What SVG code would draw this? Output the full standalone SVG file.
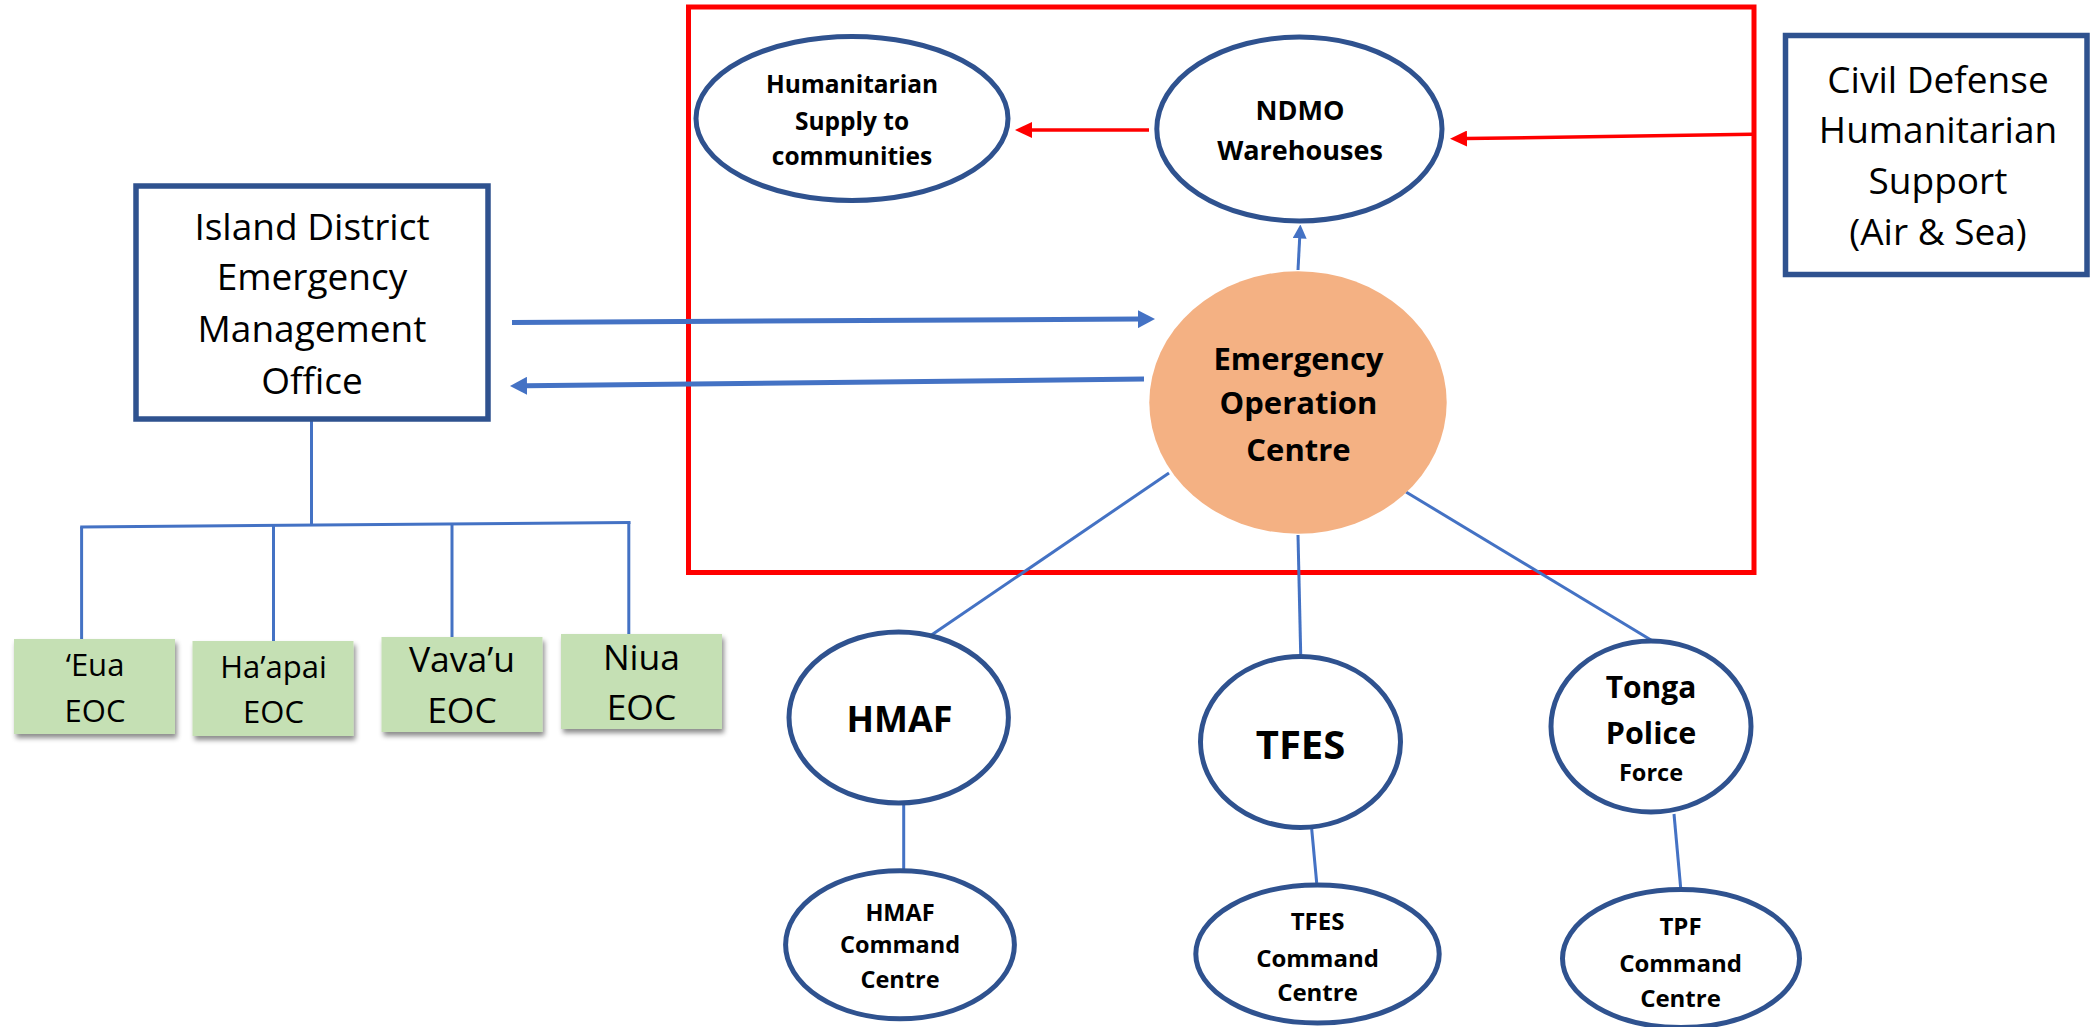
<svg xmlns="http://www.w3.org/2000/svg" width="2090" height="1027" viewBox="0 0 2090 1027">
<style>
  text { font-family: "Open Sans", "Noto Sans", "Liberation Sans", sans-serif; fill: #000; text-anchor: middle; }
  .b { font-weight: 700; }
  .node { fill: #FFFFFF; stroke: #2F528F; stroke-width: 5; }
  .box { fill: #FFFFFF; stroke: #2F528F; stroke-width: 5.5; }
  .green { fill: #C5E0B4; filter: url(#shadow); }
  .conn { fill: none; stroke: #4472C4; stroke-width: 3; }
  .thick { fill: none; stroke: #4472C4; stroke-width: 5; }
  .red { fill: none; stroke: #FF0000; stroke-width: 3.5; }
  .frame { fill: none; stroke: #FF0000; stroke-width: 5; }
</style>
<defs>
  <filter id="shadow" x="-10%" y="-10%" width="130%" height="140%">
    <feDropShadow dx="2" dy="4" stdDeviation="2.5" flood-color="#000000" flood-opacity="0.45"/>
  </filter>
  <marker id="ah-red" markerUnits="userSpaceOnUse" viewBox="0 0 17 16" markerWidth="17" markerHeight="16" refX="1" refY="8" orient="auto">
    <path d="M0,0 L17,8 L0,16 z" fill="#FF0000"/>
  </marker>
  <marker id="ah-blue-thick" markerUnits="userSpaceOnUse" viewBox="0 0 17 18" markerWidth="17" markerHeight="18" refX="1" refY="9" orient="auto">
    <path d="M0,0 L17,9 L0,18 z" fill="#4472C4"/>
  </marker>
  <marker id="ah-blue" markerUnits="userSpaceOnUse" viewBox="0 0 14 14" markerWidth="14" markerHeight="14" refX="1" refY="7" orient="auto">
    <path d="M0,0 L14,7 L0,14 z" fill="#4472C4"/>
  </marker>
</defs>
<rect width="2090" height="1027" fill="#FFFFFF"/>

<g id="eoc-boundary">
  <rect class="frame" x="688.5" y="7" width="1065.5" height="565.5"/>
</g>

<g id="connectors">
  <line class="red" x1="1149" y1="130" x2="1031" y2="130" marker-end="url(#ah-red)"/>
  <line class="red" x1="1752" y1="134.2" x2="1466" y2="138.6" marker-end="url(#ah-red)"/>
  <line class="conn" x1="1298" y1="270" x2="1299.7" y2="237.5" marker-end="url(#ah-blue)"/>
  <line class="thick" x1="512" y1="322.4" x2="1139" y2="319.1" marker-end="url(#ah-blue-thick)"/>
  <line class="thick" x1="1144" y1="379" x2="526" y2="385.8" marker-end="url(#ah-blue-thick)"/>
  <line class="conn" x1="1169" y1="473" x2="930" y2="636"/>
  <line class="conn" x1="1298" y1="535" x2="1300.7" y2="654"/>
  <line class="conn" x1="1406" y1="492" x2="1651" y2="640"/>
  <line class="conn" x1="903.7" y1="805" x2="903.7" y2="869"/>
  <line class="conn" x1="1311.7" y1="829" x2="1316.7" y2="883"/>
  <line class="conn" x1="1674" y1="814" x2="1680.7" y2="888"/>
  <line class="conn" x1="311.5" y1="421" x2="311.5" y2="525"/>
  <line class="conn" x1="80.2" y1="527" x2="630.5" y2="522.5"/>
  <line class="conn" x1="81.6" y1="527" x2="81.6" y2="639.5"/>
  <line class="conn" x1="273.5" y1="525.4" x2="273.5" y2="641"/>
  <line class="conn" x1="452" y1="524" x2="452" y2="637.5"/>
  <line class="conn" x1="628.8" y1="522.5" x2="628.8" y2="634.5"/>
</g>

<g id="n-island">
  <rect class="box" x="136" y="186" width="352" height="233"/>
  <text x="312" y="240" font-size="37">Island District</text>
  <text x="312" y="290" font-size="37">Emergency</text>
  <text x="312" y="341.5" font-size="37">Management</text>
  <text x="312" y="394" font-size="37">Office</text>
</g>

<g id="n-civil">
  <rect class="box" x="1785.5" y="35.5" width="301.5" height="239"/>
  <text x="1938" y="93" font-size="37">Civil Defense</text>
  <text x="1938" y="143" font-size="37">Humanitarian</text>
  <text x="1938" y="194" font-size="37">Support</text>
  <text x="1938" y="245" font-size="37">(Air &amp; Sea)</text>
</g>

<g id="n-humanitarian">
  <ellipse class="node" cx="852" cy="118.5" rx="156" ry="82"/>
  <text class="b" x="852" y="93" font-size="24.5">Humanitarian</text>
  <text class="b" x="852" y="130" font-size="24.5">Supply to</text>
  <text class="b" x="852" y="165" font-size="24.5">communities</text>
</g>

<g id="n-ndmo">
  <ellipse class="node" cx="1299.4" cy="129" rx="142.6" ry="92"/>
  <text class="b" x="1300" y="120" font-size="27">NDMO</text>
  <text class="b" x="1300" y="160" font-size="27">Warehouses</text>
</g>

<g id="n-eoc">
  <ellipse cx="1298" cy="402.5" rx="148.7" ry="131.2" fill="#F4B183"/>
  <text class="b" x="1298.5" y="370" font-size="31">Emergency</text>
  <text class="b" x="1298.5" y="414" font-size="31">Operation</text>
  <text class="b" x="1298.5" y="461" font-size="31">Centre</text>
</g>

<g id="n-hmaf">
  <ellipse class="node" cx="898.7" cy="717.5" rx="109.7" ry="85.5"/>
  <text class="b" x="899.5" y="731.5" font-size="36">HMAF</text>
</g>

<g id="n-hmaf-cc">
  <ellipse class="node" cx="900" cy="944.8" rx="114.4" ry="74"/>
  <text class="b" x="900" y="920.5" font-size="23.5">HMAF</text>
  <text class="b" x="900" y="953" font-size="23.5">Command</text>
  <text class="b" x="900" y="988" font-size="23.5">Centre</text>
</g>

<g id="n-tfes">
  <ellipse class="node" cx="1300.5" cy="742" rx="100" ry="85.5"/>
  <text class="b" x="1300.5" y="758.5" font-size="40">TFES</text>
</g>

<g id="n-tfes-cc">
  <ellipse class="node" cx="1317.5" cy="954" rx="121.7" ry="69"/>
  <text class="b" x="1317.5" y="929.5" font-size="24">TFES</text>
  <text class="b" x="1317.5" y="967" font-size="24">Command</text>
  <text class="b" x="1317.5" y="1001" font-size="24">Centre</text>
</g>

<g id="n-tonga-police">
  <ellipse class="node" cx="1651" cy="726.5" rx="100" ry="85.5"/>
  <text class="b" x="1651" y="698" font-size="30">Tonga</text>
  <text class="b" x="1651" y="743.5" font-size="30.5">Police</text>
  <text class="b" x="1651" y="780.5" font-size="23.5">Force</text>
</g>

<g id="n-tpf-cc">
  <ellipse class="node" cx="1681" cy="958.5" rx="118.5" ry="69"/>
  <text class="b" x="1680.5" y="934.5" font-size="24">TPF</text>
  <text class="b" x="1680.5" y="972" font-size="24">Command</text>
  <text class="b" x="1680.5" y="1006.5" font-size="24">Centre</text>
</g>

<g id="n-eua">
  <rect class="green" x="14" y="639" width="161" height="95"/>
  <text x="95" y="675.5" font-size="31">‘Eua</text>
  <text x="95" y="722" font-size="31">EOC</text>
</g>

<g id="n-haapai">
  <rect class="green" x="192.5" y="641" width="161" height="95"/>
  <text x="273.5" y="678" font-size="31">Ha’apai</text>
  <text x="273.5" y="723" font-size="31">EOC</text>
</g>

<g id="n-vavau">
  <rect class="green" x="381.5" y="637" width="161" height="95"/>
  <text x="462" y="672" font-size="35.5">Vava’u</text>
  <text x="462" y="723" font-size="35.5">EOC</text>
</g>

<g id="n-niua">
  <rect class="green" x="561" y="634" width="161" height="95"/>
  <text x="641.5" y="669.5" font-size="35.5">Niua</text>
  <text x="641.5" y="719.5" font-size="35.5">EOC</text>
</g>
</svg>
